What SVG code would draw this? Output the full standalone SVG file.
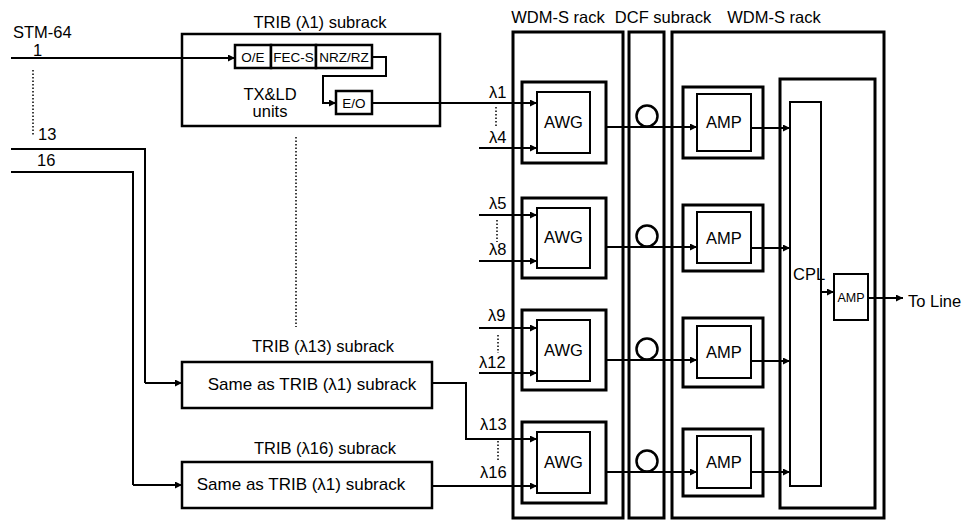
<svg xmlns="http://www.w3.org/2000/svg" width="964" height="521" viewBox="0 0 964 521">
<defs>
<marker id="ah" viewBox="0 0 10 10" refX="10" refY="5" markerWidth="8" markerHeight="7" markerUnits="userSpaceOnUse" orient="auto">
<path d="M0,0 L10,5 L0,10 Z" fill="#000"/>
</marker>
<style>
text{font-family:"Liberation Sans",Arial,sans-serif;font-size:16.5px;fill:#000}
.same{font-size:17px}
.sm{font-size:13.5px}
.xs{font-size:12.5px}
.mid{text-anchor:middle}
.box{fill:#fff;stroke:#000;stroke-width:2.5}
.rack{fill:none;stroke:#000;stroke-width:3}
.thin{fill:#fff;stroke:#000;stroke-width:2}
.ln{fill:none;stroke:#000;stroke-width:2}
.arr{fill:none;stroke:#000;stroke-width:2;marker-end:url(#ah)}
.dot{fill:none;stroke:#000;stroke-width:1.5;stroke-dasharray:1.5,2}
.circ{fill:#fff;stroke:#000;stroke-width:2.5}
</style>
</defs>
<rect width="964" height="521" fill="#fff"/>

<!-- racks -->
<g id="wdm-rack-1">
<rect class="rack" x="513" y="32" width="110" height="486"/>
<text class="mid" x="558" y="23">WDM-S rack</text>
</g>
<g id="dcf-subrack">
<rect class="rack" x="629" y="32" width="35" height="486"/>
<text class="mid" x="663" y="23">DCF subrack</text>
</g>
<g id="wdm-rack-2">
<rect class="rack" x="672" y="32" width="212" height="486"/>
<text class="mid" x="774" y="23">WDM-S rack</text>
<rect class="rack" x="780" y="79" width="95" height="429"/>
</g>

<!-- TRIB lambda1 -->
<g id="trib1">
<text class="mid" x="320" y="28">TRIB (λ1) subrack</text>
<rect class="box" x="182" y="34" width="258" height="92"/>
<rect class="box" x="235" y="45" width="36" height="23"/>
<rect class="box" x="271" y="45" width="45" height="23"/>
<rect class="box" x="316" y="45" width="56" height="23"/>
<text class="sm mid" x="253" y="62">O/E</text>
<text class="sm mid" x="293.5" y="62">FEC-S</text>
<text class="sm mid" x="344" y="62">NRZ/RZ</text>
<rect class="box" x="336" y="91" width="36" height="23"/>
<text class="sm mid" x="354" y="108">E/O</text>
<text class="mid" x="270" y="100">TX&amp;LD</text>
<text class="mid" x="270" y="117">units</text>
</g>
<g id="trib13">
<text class="mid" x="323" y="352">TRIB (λ13) subrack</text>
<rect class="box" x="182" y="362" width="250" height="46"/>
<text class="same mid" x="312" y="390">Same as TRIB (λ1) subrack</text>
</g>
<g id="trib16">
<text class="mid" x="325" y="454">TRIB (λ16) subrack</text>
<rect class="box" x="182" y="462" width="250" height="46"/>
<text class="same mid" x="301" y="490">Same as TRIB (λ1) subrack</text>
</g>

<!-- AWGs -->
<g id="awg1">
<rect class="rack" x="522" y="82" width="84" height="81"/>
<rect class="thin" x="537" y="92" width="53" height="61"/>
<text class="mid" x="563.5" y="128">AWG</text>
</g>
<g id="awg2">
<rect class="rack" x="522" y="198" width="84" height="80"/>
<rect class="thin" x="537" y="208" width="53" height="60"/>
<text class="mid" x="563.5" y="243">AWG</text>
</g>
<g id="awg3">
<rect class="rack" x="522" y="310" width="84" height="80"/>
<rect class="thin" x="537" y="320" width="53" height="61"/>
<text class="mid" x="563.5" y="356">AWG</text>
</g>
<g id="awg4">
<rect class="rack" x="522" y="422" width="84" height="81"/>
<rect class="thin" x="537" y="432" width="53" height="61"/>
<text class="mid" x="563.5" y="468">AWG</text>
</g>

<!-- AMPs -->
<g id="amp1">
<rect class="rack" x="683" y="87" width="80" height="71"/>
<rect class="thin" x="697" y="94" width="54" height="57"/>
<text class="mid" x="724" y="128">AMP</text>
</g>
<g id="amp2">
<rect class="rack" x="683" y="205" width="80" height="66"/>
<rect class="thin" x="697" y="212" width="54" height="51"/>
<text class="mid" x="724" y="244">AMP</text>
</g>
<g id="amp3">
<rect class="rack" x="683" y="318" width="80" height="69"/>
<rect class="thin" x="697" y="326" width="54" height="52"/>
<text class="mid" x="724" y="358">AMP</text>
</g>
<g id="amp4">
<rect class="rack" x="683" y="429" width="80" height="67"/>
<rect class="thin" x="697" y="436" width="54" height="52"/>
<text class="mid" x="724" y="468">AMP</text>
</g>

<g id="cpl">
<rect class="thin" x="790" y="102" width="31" height="384"/>
<text x="793" y="280">CPL</text>
</g>
<g id="amp-line">
<rect class="thin" x="834" y="274" width="34" height="46"/>
<text class="xs mid" x="851" y="302">AMP</text>
</g>

<!-- connectors -->
<g id="connectors">
<path class="arr" d="M11,58 H235"/>
<path class="arr" d="M372,57 H386 V76 H323 V103 H336"/>
<path class="arr" d="M372,103 H537"/>
<path class="arr" d="M479,148 H537"/>
<path class="arr" d="M479,215 H537"/>
<path class="arr" d="M479,261 H537"/>
<path class="arr" d="M479,328 H537"/>
<path class="arr" d="M479,373 H537"/>
<path class="ln" d="M11,149 H145 V383"/>
<path class="arr" d="M145,383 H182"/>
<path class="ln" d="M11,172 H133 V485"/>
<path class="arr" d="M133,485 H182"/>
<path class="arr" d="M432,383 H466 V439 H537"/>
<path class="arr" d="M432,486 H537"/>

<path class="arr" d="M606,127 H697"/>
<path class="arr" d="M606,247 H697"/>
<path class="arr" d="M606,360 H697"/>
<path class="arr" d="M606,472 H697"/>
<circle class="circ" cx="647" cy="116" r="10.5"/>
<circle class="circ" cx="647" cy="236" r="10.5"/>
<circle class="circ" cx="647" cy="349" r="10.5"/>
<circle class="circ" cx="647" cy="461" r="10.5"/>

<path class="arr" d="M751,128 H790"/>
<path class="arr" d="M751,248 H790"/>
<path class="arr" d="M751,361 H790"/>
<path class="arr" d="M751,472 H790"/>
<path class="arr" d="M821,292 H834"/>
<path class="arr" d="M868,298 H903"/>

<path class="dot" d="M33,70 V135"/>
<path class="dot" d="M296,137 V327"/>
<path class="dot" d="M496,107 V127"/>
<path class="dot" d="M497,220 V242"/>
<path class="dot" d="M498,335 V353"/>
<path class="dot" d="M498,441 V462"/>
</g>

<!-- free labels -->
<g id="labels">
<text x="13" y="38">STM-64</text>
<text x="33" y="56">1</text>
<text x="38" y="140">13</text>
<text x="37" y="166">16</text>
<text x="489" y="98">λ1</text>
<text x="489" y="143">λ4</text>
<text x="489" y="209">λ5</text>
<text x="489" y="255">λ8</text>
<text x="488" y="321">λ9</text>
<text x="479" y="368">λ12</text>
<text x="480" y="430">λ13</text>
<text x="480" y="478">λ16</text>
<text x="908" y="307">To Line</text>
</g>
</svg>
